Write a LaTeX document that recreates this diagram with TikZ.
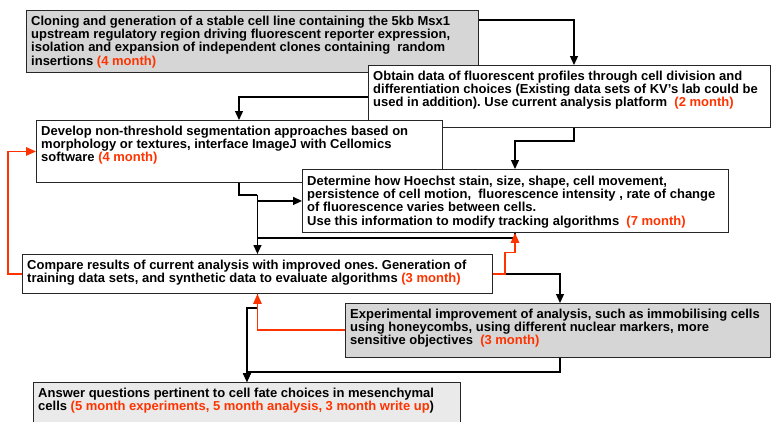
\documentclass[tikz,border=0pt]{standalone}
\usepackage{fontspec}
\setmainfont{Liberation Sans}
\usetikzlibrary{arrows.meta,calc}
\definecolor{redo}{RGB}{255,51,0}
\definecolor{greyA}{RGB}{214,214,214}
\definecolor{greyG}{RGB}{234,234,234}
\newcommand{\mo}[1]{\textcolor{redo}{#1}}
\frenchspacing
\begin{document}
\frenchspacing
\begin{tikzpicture}[x=1pt,y=-1pt,
  box/.style={draw=black!85, line width=0.9pt, inner sep=0pt, anchor=north west},
  txt/.style={anchor=north west, inner sep=0pt, align=left, font=\fontsize{13}{13.3}\selectfont\bfseries},
  conn/.style={draw=black, line width=1.3pt},
  arr/.style={conn, -{Triangle[length=9pt,width=8pt]}},
  rline/.style={draw=redo, line width=1.3pt},
  rarr/.style={rline, -{Triangle[length=10pt,width=8.5pt]}}]
\useasboundingbox (0,0) rectangle (771,421);
\clip (0,0) rectangle (771,421);
% boxes
\node[box, fill=greyA, minimum width=452pt, minimum height=62pt] (A) at (26,10) {};
\node[txt] (At) at ($(A.north west)+(5,5)$) {\rule{0pt}{10pt}Cloning and generation of a stable cell line containing the 5kb Msx1\\upstream regulatory region driving fluorescent reporter expression,\\isolation and expansion of independent clones containing \ random\\insertions \mo{(4 month)}};
\node[box, fill=white, minimum width=402pt, minimum height=62pt] (B) at (368,65) {};
\node[txt] (Bt) at ($(B.north west)+(5,5)$) {\rule{0pt}{10pt}Obtain data of fluorescent profiles through cell division and\\differentiation choices (Existing data sets of KV's lab could be\\used in addition). Use current analysis platform \ \mo{(2 month)}};
\node[box, fill=white, minimum width=406pt, minimum height=62pt] (C) at (36,120) {};
\node[txt] (Ct) at ($(C.north west)+(5,5)$) {\rule{0pt}{10pt}Develop non-threshold segmentation approaches based on\\morphology or textures, interface ImageJ with Cellomics\\software \mo{(4 month)}};
\node[box, fill=white, minimum width=426pt, minimum height=63pt] (D) at (302,169) {};
\node[txt] (Dt) at ($(D.north west)+(5,6)$) {\rule{0pt}{10pt}Determine how Hoechst stain, size, shape, cell movement,\\persistence of cell motion, \ fluorescence intensity , rate of change\\of fluorescence varies between cells.\\Use this information to modify tracking algorithms \ \mo{(7 month)}};
\node[box, fill=white, minimum width=470pt, minimum height=39pt] (E) at (22,254) {};
\node[txt] (Et) at ($(E.north west)+(5,5)$) {\rule{0pt}{10pt}Compare results of current analysis with improved ones. Generation of\\training data sets, and synthetic data to evaluate algorithms \mo{(3 month)}};
\node[box, fill=greyA, minimum width=425pt, minimum height=54pt] (F) at (345,303) {};
\node[txt] (Ft) at ($(F.north west)+(5,5)$) {\rule{0pt}{10pt}Experimental improvement of analysis, such as immobilising cells\\using honeycombs, using different nuclear markers, more\\sensitive objectives \ \mo{(3 month)}};
\node[box, fill=greyG, minimum width=427pt, minimum height=50pt] (G) at (33,382) {};
\node[txt] (Gt) at ($(G.north west)+(5,5)$) {\rule{0pt}{10pt}Answer questions pertinent to cell fate choices in mesenchymal\\cells \mo{(5 month experiments, 5 month analysis, 3 month write up})};
% black connectors
\draw[arr] ([yshift=-10pt]A.north east) -| ([xshift=206pt]B.north west);
\draw[arr] ([yshift=-32pt]B.north west) -| ([xshift=203pt]C.north west);
\draw[arr] ([xshift=206pt]B.south west) -- ++(0,13) -| ([xshift=213pt]D.north west);
\coordinate (j1) at ($(E.north |- C.south)+(0,12)$);
\draw[conn] ([xshift=203pt]C.south west) |- (j1);
\draw[arr] (j1) |- (D.west);
\draw[arr] (j1) -- (E.north);
\draw[conn] ([xshift=213pt]D.south west) |- ($(E.north)+(0,-16)$);
\draw[arr] (E.east) -| ([xshift=215pt]F.north west);
\draw[arr] (E.south) -- ++(0,14) -| (G.north);
\draw[arr] ([xshift=215pt]F.south west) -- ++(0,14) -| (G.north);
% red connectors
\draw[rarr] (E.west) -- ++(-14,0) |- (C.west);
\draw[rarr] (E.east) -- ++(12,0) -- ++(0,-21.5) -| ([xshift=213pt]D.south west);
\draw[rarr] ([yshift=-27pt]F.north west) -| (E.south);
\end{tikzpicture}
\end{document}
